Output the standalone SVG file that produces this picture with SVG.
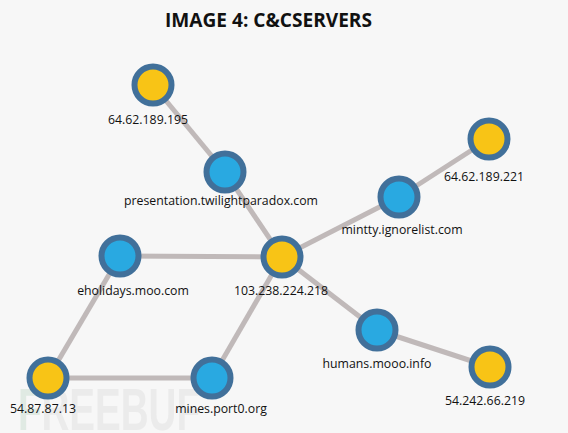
<svg xmlns="http://www.w3.org/2000/svg" width="568" height="433" viewBox="0 0 568 433">
<style>
.edge{stroke:#c0b9b9;stroke-width:5;stroke-linecap:butt;fill:none}
.ip circle{fill:#f8c416;stroke:#41709a;stroke-width:6}
.dom circle{fill:#29a9e1;stroke:#41709a;stroke-width:6}
.lbl{font-family:"Open Sans","Liberation Sans",sans-serif;font-size:12.3px;fill:#111;text-anchor:middle}
.title{font-family:"Open Sans","Liberation Sans",sans-serif;font-size:20px;font-weight:bold;fill:#111}
.wm{font-family:"Liberation Sans",sans-serif;font-size:60px;font-weight:bold;fill:#ebebeb}
</style>
<rect width="568" height="433" fill="#f7f7f7"/>
<text class="wm" x="18" y="430" textLength="182" lengthAdjust="spacingAndGlyphs"><tspan fill="#e0eae3">F</tspan>REEBUF</text>
<text class="title" x="165" y="27" textLength="207" lengthAdjust="spacingAndGlyphs">IMAGE 4: C&amp;CSERVERS</text>
<g id="connectors">
<line class="edge" x1="153" y1="85" x2="225" y2="172"/>
<line class="edge" x1="225" y1="172" x2="282" y2="257"/>
<line class="edge" x1="282" y1="257" x2="399" y2="197"/>
<line class="edge" x1="399" y1="197" x2="489" y2="139"/>
<line class="edge" x1="282" y1="257" x2="120" y2="256"/>
<line class="edge" x1="282" y1="257" x2="377" y2="330"/>
<line class="edge" x1="377" y1="330" x2="490" y2="367"/>
<line class="edge" x1="120" y1="256" x2="48" y2="378"/>
<line class="edge" x1="48" y1="378" x2="212" y2="378"/>
<line class="edge" x1="212" y1="378" x2="282" y2="257"/>
</g>
<g id="n1" class="ip"><circle cx="153" cy="85" r="18.5"/><text class="lbl" x="148" y="124">64.62.189.195</text></g>
<g id="n2" class="dom"><circle cx="225" cy="172" r="18.5"/><text class="lbl" x="221" y="205">presentation.twilightparadox.com</text></g>
<g id="n3" class="ip"><circle cx="489" cy="139" r="18.5"/><text class="lbl" x="484" y="181">64.62.189.221</text></g>
<g id="n4" class="dom"><circle cx="399" cy="197" r="18.5"/><text class="lbl" x="402" y="234">mintty.ignorelist.com</text></g>
<g id="n5" class="dom"><circle cx="120" cy="256" r="18.5"/><text class="lbl" x="133" y="295">eholidays.moo.com</text></g>
<g id="n6" class="ip"><circle cx="282" cy="257" r="18.5"/><text class="lbl" x="281" y="295">103.238.224.218</text></g>
<g id="n7" class="dom"><circle cx="377" cy="330" r="18.5"/><text class="lbl" x="377" y="368">humans.mooo.info</text></g>
<g id="n8" class="ip"><circle cx="490" cy="367" r="18.5"/><text class="lbl" x="485" y="405">54.242.66.219</text></g>
<g id="n9" class="ip"><circle cx="48" cy="378" r="18.5"/><text class="lbl" x="43" y="413">54.87.87.13</text></g>
<g id="n10" class="dom"><circle cx="212" cy="378" r="18.5"/><text class="lbl" x="221" y="413">mines.port0.org</text></g>
</svg>
